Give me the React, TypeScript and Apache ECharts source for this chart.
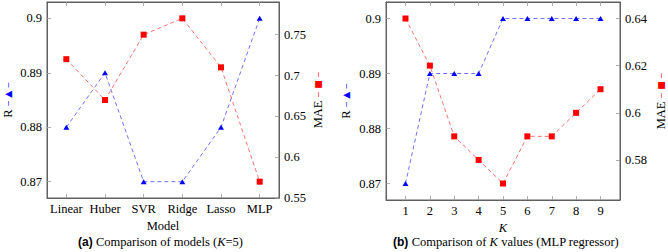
import React, { useEffect, useRef } from "react";
import * as echarts from "echarts";

const models = ["Linear", "Huber", "SVR", "Ridge", "Lasso", "MLP"];
const modelR = [0.88, 0.89, 0.87, 0.87, 0.88, 0.9];
const modelMAE = [0.72, 0.67, 0.75, 0.77, 0.71, 0.57];

const kValues = [1, 2, 3, 4, 5, 6, 7, 8, 9];
const kR = [0.87, 0.89, 0.89, 0.89, 0.9, 0.9, 0.9, 0.9, 0.9];
const kMAE = [0.64, 0.62, 0.59, 0.58, 0.57, 0.59, 0.59, 0.6, 0.61];

const rTicks = [0.87, 0.88, 0.89, 0.9];
const maeTicksA = [0.55, 0.6, 0.65, 0.7, 0.75];
const maeTicksB = [0.58, 0.6, 0.62, 0.64];

const SERIF = "Liberation Serif";
const SANS = "Liberation Sans";
const FRAME = "#606060";
const BLUE = "#0000ff";
const RED = "#ff0000";

export default function App() {
  const ref = useRef<HTMLDivElement>(null);
  useEffect(() => {
    if (!ref.current) return;
    const chart = echarts.init(ref.current, null, { renderer: "svg" });
    const lbl = { fontFamily: SERIF, fontSize: 12.5, color: "#000" };
    const tick = (vals?: number[]) => ({
      show: true,
      inside: true,
      length: 4,
      lineStyle: { color: "#999", width: 0.8 },
      ...(vals ? { customValues: vals } : {}),
    });
    const axLine = { show: true, lineStyle: { color: FRAME, width: 1 } };
    const nameRich = (col: string) => ({
      fontFamily: SERIF,
      fontSize: 12.5,
      color: "#000",
      rich: {
        t: { fontFamily: SERIF, fontSize: 12.5, color: "#000" },
        l: { fontFamily: "DejaVu Sans", fontSize: 9, color: col },
      },
    });
    const option: any = {
      animation: false,
      textStyle: { fontFamily: SERIF },
      grid: [
        { left: 42, top: 2, width: 237, height: 196, show: true, borderColor: FRAME, borderWidth: 1 },
        { left: 386, top: 2, width: 240, height: 198, show: true, borderColor: FRAME, borderWidth: 1 },
      ],
      xAxis: [
        {
          type: "category",
          gridIndex: 0,
          data: models,
          boundaryGap: true,
          position: "bottom",
          axisLine: axLine,
          axisTick: { ...tick(), alignWithLabel: true },
          axisLabel: { ...lbl, margin: 4, interval: 0 },
          splitLine: { show: false },
          name: "Model",
          nameLocation: "middle",
          nameGap: 21,
          nameTextStyle: { ...lbl },
        },
        {
          type: "category",
          gridIndex: 0,
          data: models,
          boundaryGap: true,
          position: "top",
          axisLine: axLine,
          axisTick: { ...tick(), alignWithLabel: true, interval: 0 },
          axisLabel: { show: false, interval: 0 },
          splitLine: { show: false },
        },
        {
          type: "value",
          gridIndex: 1,
          min: 0.2,
          max: 9.8,
          position: "bottom",
          axisLine: axLine,
          axisTick: tick(kValues),
          axisLabel: { ...lbl, margin: 4, customValues: kValues },
          splitLine: { show: false },
          name: "K",
          nameLocation: "middle",
          nameGap: 19,
          nameTextStyle: { ...lbl, fontStyle: "italic" },
        },
        {
          type: "value",
          gridIndex: 1,
          min: 0.2,
          max: 9.8,
          position: "top",
          axisLine: axLine,
          axisTick: tick(kValues),
          axisLabel: { show: false },
          splitLine: { show: false },
        },
      ],
      yAxis: [
        {
          type: "value",
          gridIndex: 0,
          min: 0.867,
          max: 0.903,
          position: "left",
          axisLine: axLine,
          axisTick: tick(rTicks),
          axisLabel: { ...lbl, margin: 5, customValues: rTicks },
          splitLine: { show: false },
          name: "{t|R} {l|‒ ▲ ‒}",
          nameLocation: "middle",
          nameRotate: 90,
          nameGap: 33,
          nameTextStyle: nameRich(BLUE),
        },
        {
          type: "value",
          gridIndex: 0,
          min: 0.55,
          max: 0.79,
          position: "right",
          axisLine: axLine,
          axisTick: tick(maeTicksA),
          axisLabel: { ...lbl, margin: 5, customValues: maeTicksA },
          splitLine: { show: false },
          name: "{t|MAE} {l|‒ ■ ‒}",
          nameLocation: "middle",
          nameRotate: 90,
          nameGap: 32,
          nameTextStyle: nameRich(RED),
        },
        {
          type: "value",
          gridIndex: 1,
          min: 0.867,
          max: 0.903,
          position: "left",
          axisLine: axLine,
          axisTick: tick(rTicks),
          axisLabel: { ...lbl, margin: 5, customValues: rTicks },
          splitLine: { show: false },
          name: "{t|R} {l|‒ ▲ ‒}",
          nameLocation: "middle",
          nameRotate: 90,
          nameGap: 34,
          nameTextStyle: nameRich(BLUE),
        },
        {
          type: "value",
          gridIndex: 1,
          min: 0.563,
          max: 0.647,
          position: "right",
          axisLine: axLine,
          axisTick: tick(maeTicksB),
          axisLabel: { ...lbl, margin: 5, customValues: maeTicksB },
          splitLine: { show: false },
          name: "{t|MAE} {l|‒ ■ ‒}",
          nameLocation: "middle",
          nameRotate: 90,
          nameGap: 34,
          nameTextStyle: nameRich(RED),
        },
      ],
      series: [
        {
          type: "line",
          xAxisIndex: 0,
          yAxisIndex: 0,
          data: modelR,
          symbol: "triangle",
          symbolSize: [6, 5],
          itemStyle: { color: BLUE },
          lineStyle: { color: "#4d4dff", width: 0.8, type: [4, 3] },
        },
        {
          type: "line",
          xAxisIndex: 0,
          yAxisIndex: 1,
          data: modelMAE,
          symbol: "rect",
          symbolSize: 6,
          itemStyle: { color: RED },
          lineStyle: { color: "#ff4d4d", width: 0.8, type: [4, 3] },
        },
        {
          type: "line",
          xAxisIndex: 2,
          yAxisIndex: 2,
          data: kValues.map((k, i) => [k, kR[i]]),
          symbol: "triangle",
          symbolSize: [6, 5],
          itemStyle: { color: BLUE },
          lineStyle: { color: "#4d4dff", width: 0.8, type: [4, 3] },
        },
        {
          type: "line",
          xAxisIndex: 2,
          yAxisIndex: 3,
          data: kValues.map((k, i) => [k, kMAE[i]]),
          symbol: "rect",
          symbolSize: 6,
          itemStyle: { color: RED },
          lineStyle: { color: "#ff4d4d", width: 0.8, type: [4, 3] },
        },
      ],
      graphic: [
        {
          type: "text",
          x: 160.5,
          y: 242,
          style: {
            text: "{b|(a)} {s|Comparison of models (}{i|K}{s|=5)}",
            align: "center",
            verticalAlign: "middle",
            rich: {
              b: { fontFamily: SANS, fontWeight: "bold", fontSize: 12, fill: "#000" },
              s: { fontFamily: SERIF, fontSize: 12.5, fill: "#000" },
              i: { fontFamily: SERIF, fontSize: 12.5, fontStyle: "italic", fill: "#000" },
            },
          },
        },
        {
          type: "text",
          x: 506,
          y: 242,
          style: {
            text: "{b|(b)} {s|Comparison of }{i|K}{s| values (MLP regressor)}",
            align: "center",
            verticalAlign: "middle",
            rich: {
              b: { fontFamily: SANS, fontWeight: "bold", fontSize: 12, fill: "#000" },
              s: { fontFamily: SERIF, fontSize: 12.5, fill: "#000" },
              i: { fontFamily: SERIF, fontSize: 12.5, fontStyle: "italic", fill: "#000" },
            },
          },
        },
      ],
    };
    chart.setOption(option);
    return () => chart.dispose();
  }, []);
  return (
    <div
      ref={ref}
      style={{ position: "fixed", left: 0, top: 0, width: 668, height: 252, background: "#fff" }}
    />
  );
}
